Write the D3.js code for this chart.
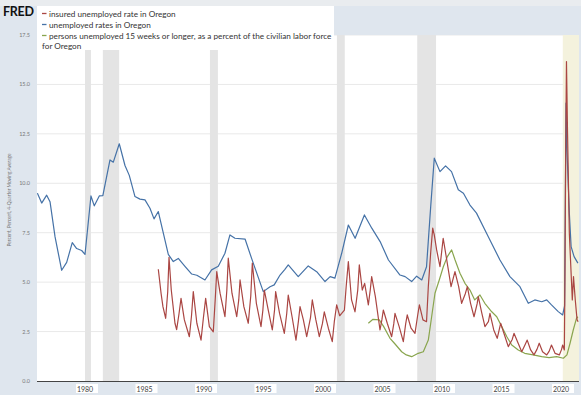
<!DOCTYPE html>
<meta charset="utf-8">
<head>
	<title>Oregon unemployment</title>
	<script type="text/javascript" src="https://cdn.jsdelivr.net/npm/d3@7"></script>
	<style>
		body { margin: 0; background: #dfe6ee; }
		text { font-family: Lato, "Liberation Sans", sans-serif; }
		.line { fill: none; stroke-width: 1.2; stroke-linejoin: round; }
	</style>
</head>
<body>
<div id="chart"></div>
<script>

// series values (decimal years)
var unempYears = [1976.0,1976.36,1976.78,1977.06,1977.48,1978.04,1978.46,1978.93,1979.3,1979.72,1980.0,1980.5,1980.78,1981.2,1981.5,1982.1,1982.38,1982.88,1983.36,1983.72,1984.2,1984.62,1985.04,1985.46,1985.8,1986.16,1987.0,1987.42,1987.84,1988.4,1988.97,1989.4,1990.08,1990.64,1991.2,1991.76,1992.18,1992.6,1993.45,1994.0,1994.98,1995.55,1995.9,1996.39,1996.8,1997.08,1997.92,1998.76,1999.47,2000.17,2000.6,2001.0,2001.57,2002.13,2002.7,2003.48,2004.1,2004.8,2005.5,2006.47,2006.9,2007.45,2007.87,2008.3,2008.7,2009.05,2009.35,2009.83,2010.3,2010.8,2011.37,2011.8,2012.35,2012.9,2013.89,2014.87,2015.71,2016.55,2017.25,2017.8,2018.38,2018.8,2019.2,2019.77,2020.14,2020.3,2020.42,2020.5,2020.7,2020.85,2021.1,2021.42];
var unempRates = [9.5,9.0,9.4,9.07,7.3,5.6,6.0,7.0,6.7,6.6,6.4,9.36,8.86,9.36,9.38,11.18,11.07,12.0,10.9,10.4,9.33,9.2,9.16,8.74,8.2,8.57,6.4,6.04,6.2,5.8,5.41,5.35,5.11,5.62,5.8,6.46,7.39,7.22,7.18,6.2,4.52,4.77,4.86,5.36,5.65,5.87,5.28,5.82,5.53,5.03,5.28,5.2,6.46,7.89,7.22,8.4,7.73,7.05,6.12,5.36,5.28,5.03,5.3,5.11,5.78,8.82,11.27,10.59,10.88,10.59,9.67,9.5,8.9,8.49,7.3,6.12,5.28,4.77,3.93,4.1,4.01,4.1,3.85,3.51,3.34,3.8,14.05,11.7,8.49,6.8,6.29,5.96];

var insuredYears = [1986.16,1986.4,1986.55,1986.78,1986.95,1987.06,1987.25,1987.56,1987.7,1987.9,1988.07,1988.35,1988.77,1988.95,1989.1,1989.4,1989.75,1989.95,1990.14,1990.45,1990.78,1990.95,1991.07,1991.35,1991.76,1991.92,1992.04,1992.35,1992.75,1992.92,1993.03,1993.35,1993.72,1993.93,1994.06,1994.4,1994.79,1994.95,1995.07,1995.4,1995.74,1995.93,1996.02,1996.35,1996.75,1996.95,1997.08,1997.4,1997.73,1997.93,1998.07,1998.35,1998.63,1998.95,1999.1,1999.4,1999.69,1999.95,2000.11,2000.45,2000.78,2000.95,2001.15,2001.4,2001.57,2001.8,2001.95,2002.13,2002.4,2002.69,2002.92,2003.05,2003.3,2003.5,2003.81,2003.97,2004.09,2004.4,2004.79,2004.95,2005.07,2005.4,2005.77,2005.95,2006.05,2006.4,2006.75,2006.95,2007.08,2007.4,2007.73,2007.95,2008.1,2008.4,2008.7,2008.85,2009.05,2009.22,2009.35,2009.55,2009.83,2010.1,2010.4,2010.76,2011.09,2011.4,2011.65,2011.95,2012.13,2012.4,2012.69,2012.95,2013.05,2013.35,2013.61,2013.9,2014.03,2014.35,2014.64,2014.93,2015.1,2015.3,2015.57,2015.9,2016.05,2016.4,2016.7,2016.95,2017.16,2017.45,2017.73,2017.98,2018.17,2018.45,2018.8,2019.0,2019.2,2019.5,2019.86,2020.05,2020.14,2020.28,2020.33,2020.4,2020.46,2020.55,2020.7,2020.95,2021.05,2021.2,2021.35,2021.44];
var insuredRates = [5.65,4.4,3.76,3.17,4.5,6.26,4.6,2.92,2.6,3.4,4.18,3.09,2.24,3.3,4.52,2.92,2.07,3.2,4.18,2.75,2.49,4.2,5.53,4.44,3.25,4.6,6.21,4.44,3.25,4.1,5.11,3.76,2.92,4.3,5.96,3.93,2.75,3.6,4.6,3.59,2.58,3.6,4.52,3.42,2.41,3.4,4.35,3.25,2.07,3.0,3.76,3.09,2.24,3.2,4.1,3.09,2.24,2.9,3.5,2.67,1.99,3.0,3.85,3.3,3.42,3.59,4.8,6.04,4.1,3.5,4.6,5.87,4.6,4.94,3.85,4.6,5.28,4.27,2.58,3.1,3.59,2.92,2.24,2.9,3.42,2.75,1.99,2.9,3.34,2.67,2.41,3.3,3.85,3.09,3.0,4.77,6.5,7.73,7.39,6.63,5.78,7.22,6.12,4.77,5.53,4.77,3.93,4.4,4.77,3.93,3.25,3.9,4.27,3.42,2.75,3.0,3.42,2.58,2.16,2.92,2.6,2.24,1.74,2.1,2.41,1.91,1.48,1.8,2.07,1.57,1.32,1.6,1.91,1.48,1.32,1.5,1.82,1.4,1.32,1.6,1.82,1.57,5.0,12.0,16.16,12.53,7.47,4.1,5.28,4.1,3.09,3.0];

var longYears = [2003.81,2004.2,2004.73,2005.1,2005.63,2006.0,2006.61,2007.0,2007.45,2008.0,2008.43,2008.85,2009.13,2009.41,2009.77,2010.11,2010.45,2010.81,2011.1,2011.51,2011.93,2012.35,2012.75,2013.19,2013.6,2014.18,2014.6,2015.02,2015.45,2015.86,2016.41,2016.95,2017.67,2018.38,2019.0,2019.64,2020.2,2020.5,2020.76,2021.03,2021.3,2021.42];
var longRates = [2.92,3.12,3.09,2.75,2.16,1.91,1.48,1.32,1.23,1.4,1.48,2.07,3.25,4.44,5.11,5.78,6.29,6.63,6.12,5.45,4.94,4.6,4.1,4.35,3.93,3.5,3.25,2.75,2.24,1.82,1.57,1.4,1.32,1.23,1.18,1.23,1.15,1.32,1.91,2.58,3.17,3.25];

var recessionStart = [1980.0, 1981.5, 1990.5, 2001.17, 2007.92];
var recessionEnd   = [1980.5, 1982.87, 1991.17, 2001.83, 2009.5];
var highlightStart = 2020.15;

var tickYears = [1980, 1985, 1990, 1995, 2000, 2005, 2010, 2015, 2020];
var yTicks = [0, 2.5, 5, 7.5, 10, 12.5, 15, 17.5];

var seriesNames = ["insured unemployed rate in Oregon", "unemployed rates in Oregon",
	"persons unemployed 15 weeks or longer, as a percent of the civilian labor force"];
var seriesColors = ["#aa4643", "#4572a7", "#89a54e"];

// dimensions
var width = 581, height = 395;
var plot = {left: 37, right: 579, top: 35, bottom: 381};

var svg = d3.select("#chart").append("svg")
	.attr("width", width)
	.attr("height", height);

var x = d3.scaleLinear().domain([1980, 2020]).range([85, 561]);
var y = d3.scaleLinear().domain([0, 17.5]).range([plot.bottom, plot.top]);

// backgrounds
svg.append("rect").attr("width", width).attr("height", height).attr("fill", "#dfe6ee");
svg.append("rect").attr("width", width).attr("height", 6).attr("fill", "#e9ecef");
svg.append("rect")
	.attr("x", plot.left).attr("y", plot.top)
	.attr("width", plot.right - plot.left).attr("height", plot.bottom - plot.top)
	.attr("fill", "#fff");

svg.append("clipPath").attr("id", "clip").append("rect")
	.attr("x", plot.left).attr("y", plot.top)
	.attr("width", plot.right - plot.left).attr("height", plot.bottom - plot.top);

var g = svg.append("g").attr("clip-path", "url(#clip)");

// grid
g.selectAll(".grid").data(yTicks.slice(1)).enter().append("line")
	.attr("x1", plot.left).attr("x2", plot.right)
	.attr("y1", d => y(d)).attr("y2", d => y(d))
	.attr("stroke", "#e9e9e9").attr("stroke-width", 1);

// recession bars
g.selectAll(".rec").data(recessionStart).enter().append("rect")
	.attr("x", d => x(d))
	.attr("width", (d, i) => x(recessionEnd[i]) - x(d))
	.attr("y", plot.top).attr("height", plot.bottom - plot.top)
	.attr("fill", "#e4e4e4");

g.append("rect")
	.attr("x", x(highlightStart)).attr("width", plot.right - x(highlightStart))
	.attr("y", plot.top).attr("height", plot.bottom - plot.top)
	.attr("fill", "#f4f2dd");

// lines
var line = d3.line().x(d => x(d[0])).y(d => y(d[1]));
var series = [
	d3.zip(insuredYears, insuredRates),
	d3.zip(unempYears, unempRates),
	d3.zip(longYears, longRates)
];
var order = [2, 1, 0];
order.forEach(function(i) {
	g.append("path").attr("class", "line")
		.attr("d", line(series[i]))
		.attr("stroke", seriesColors[i]);
});

// x axis line
svg.append("line")
	.attr("x1", plot.left).attr("x2", plot.right)
	.attr("y1", plot.bottom + 0.5).attr("y2", plot.bottom + 0.5)
	.attr("stroke", "#444").attr("stroke-width", 1.2);

// x tick labels in white boxes
var xl = svg.selectAll(".xl").data(tickYears).enter().append("g")
	.attr("transform", d => "translate(" + x(d) + "," + (plot.bottom + 9) + ")");
xl.append("rect").attr("x", -9).attr("y", -6).attr("width", 22).attr("height", 9).attr("fill", "#fff");
xl.append("text").text(d => d)
	.attr("text-anchor", "middle").attr("y", 1.5)
	.attr("font-size", "7px").attr("fill", "#444");

// y tick labels
svg.selectAll(".yl").data(yTicks).enter().append("text")
	.text(d3.format(".1f"))
	.attr("x", 30).attr("y", d => y(d) + 2)
	.attr("text-anchor", "end")
	.attr("font-size", "5.5px").attr("fill", "#777");

svg.append("text")
	.text("Percent, Percent, 4-Quarter Moving Average")
	.attr("transform", "translate(11,200) rotate(-90)")
	.attr("text-anchor", "middle")
	.attr("font-size", "4.8px").attr("fill", "#777");

// legend
svg.append("rect").attr("x", plot.left).attr("y", 6)
	.attr("width", 297).attr("height", 44).attr("fill", "#fff");

svg.append("text").text("FRED")
	.attr("x", 3).attr("y", 15.5)
	.attr("font-family", "'Liberation Sans', Arial, sans-serif")
	.attr("font-weight", "bold").attr("font-size", "12.5px")
	.attr("letter-spacing", "-0.3px").attr("fill", "#111");

var legendRows = [0, 1, 2];
var lg = svg.selectAll(".lg").data(legendRows).enter().append("g")
	.attr("transform", d => "translate(42," + (16.5 + d * 11) + ")");
lg.append("line")
	.attr("x1", 0).attr("x2", 4.5).attr("y1", -3).attr("y2", -3)
	.attr("stroke", d => seriesColors[d]).attr("stroke-width", 1.3);
lg.append("text").text(d => seriesNames[d])
	.attr("x", 7).attr("font-size", "8.2px").attr("fill", "#333");

svg.append("text").text("for Oregon")
	.attr("x", 42).attr("y", 48.5)
	.attr("font-size", "8.2px").attr("fill", "#333");

</script>
</body>
</html>
